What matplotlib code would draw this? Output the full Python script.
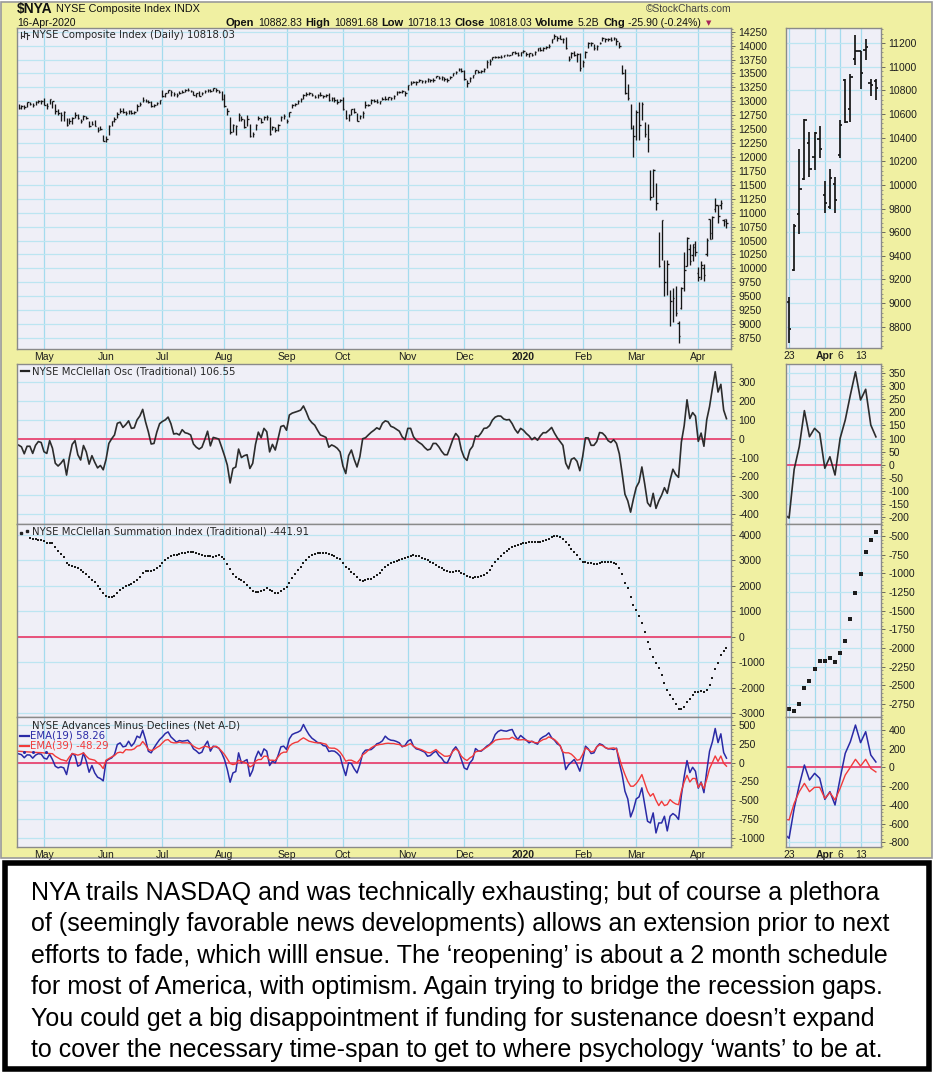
import numpy as np
import pandas as pd
import matplotlib
matplotlib.use("Agg")
import matplotlib.pyplot as plt
from matplotlib.lines import Line2D
from matplotlib.patches import Rectangle
from matplotlib.ticker import AutoMinorLocator

plt.rcParams['axes.unicode_minus'] = False
plt.rcParams['font.family'] = ['Liberation Sans', 'DejaVu Sans']

W, H = 933, 1074

# trading calendar, 17-Apr-2019 .. 16-Apr-2020
holidays = ['2019-04-19', '2019-05-27', '2019-07-04', '2019-09-02', '2019-11-28',
            '2019-12-25', '2020-01-01', '2020-01-20', '2020-02-17', '2020-04-10']
dates = pd.bdate_range('2019-04-17', '2020-04-16', freq='C', holidays=holidays)

# NYSE composite daily bars
nya_close = [
    12880, 12920, 12890, 12980, 12950, 12940, 12990, 13000, 13010, 12940,
    12920, 13040, 13000, 12820, 12790, 12760, 12800, 12580, 12650, 12700,
    12760, 12700, 12650, 12730, 12700, 12560, 12590, 12560, 12480, 12500,
    12290, 12330, 12560, 12640, 12690, 12780, 12820, 12810, 12790, 12830,
    12790, 12800, 12910, 12950, 13030, 13010, 12990, 12920, 12930, 12970,
    13020, 13100, 13140, 13200, 13160, 13130, 13120, 13150, 13170, 13210,
    13200, 13180, 13120, 13140, 13100, 13140, 13190, 13210, 13180, 13230,
    13210, 13170, 13050, 12920, 12820, 12450, 12580, 12560, 12760, 12680,
    12540, 12690, 12370, 12420, 12580, 12700, 12620, 12720, 12710, 12420,
    12530, 12480, 12580, 12710, 12730, 12640, 12800, 12930, 12950, 13000,
    13050, 13120, 13130, 13140, 13120, 13080, 13120, 13110, 13090, 13110,
    13030, 13060, 13020, 12990, 13030, 12860, 12700, 12760, 12860, 12800,
    12650, 12740, 12790, 12940, 12930, 13030, 13010, 12990, 13000, 13050,
    13040, 13070, 13060, 13100, 13160, 13170, 13190, 13140, 13290, 13330,
    13340, 13340, 13380, 13360, 13370, 13400, 13380, 13390, 13450, 13420,
    13430, 13400, 13390, 13440, 13500, 13530, 13580, 13540, 13400, 13330,
    13420, 13470, 13560, 13530, 13540, 13580, 13700, 13720, 13790, 13790,
    13800, 13800, 13830, 13830, 13830, 13880, 13870, 13840, 13880, 13910,
    13850, 13860, 13840, 13890, 13950, 13920, 13960, 13980, 14000, 14110,
    14180, 14140, 14120, 14110, 13960, 13760, 13860, 13830, 13850, 13600,
    13700, 13880, 14040, 14040, 13950, 14000, 14050, 14140, 14110, 14110,
    14100, 14130, 14080, 13990, 13510, 13150, 13060, 12520, 12380, 12810,
    12570, 12955, 12420, 12320, 11290, 11770, 11166, 10050, 10860, 9764,
    10080, 9406, 9466, 9197, 8777, 9655, 9965, 10545, 10130, 10440,
    10300, 9845, 10055, 9875, 10510, 10535, 10915, 11130, 10945, 11170,
    10845, 10818.03]
nya_high = [
    12960, 12940, 12930, 12990, 12990, 12970, 13000, 13020, 13030, 13060,
    12970, 13050, 13010, 12950, 12860, 12800, 12820, 12700, 12700, 12720,
    12800, 12770, 12690, 12750, 12740, 12640, 12640, 12660, 12530, 12560,
    12400, 12380, 12570, 12650, 12720, 12810, 12880, 12880, 12820, 12840,
    12850, 12830, 12960, 12980, 13080, 13040, 13030, 13010, 12960, 12990,
    13030, 13200, 13150, 13210, 13200, 13160, 13140, 13190, 13200, 13220,
    13230, 13210, 13190, 13150, 13180, 13160, 13200, 13220, 13220, 13240,
    13230, 13200, 13190, 13130, 12880, 12720, 12600, 12580, 12790, 12740,
    12680, 12760, 12600, 12450, 12590, 12730, 12700, 12740, 12760, 12710,
    12560, 12540, 12590, 12730, 12770, 12690, 12810, 12960, 12970, 13030,
    13060, 13130, 13170, 13160, 13140, 13120, 13130, 13160, 13120, 13130,
    13140, 13080, 13070, 13050, 13050, 13070, 12840, 12780, 12870, 12880,
    12790, 12760, 12820, 13000, 12960, 13050, 13040, 13040, 13010, 13070,
    13090, 13080, 13080, 13110, 13180, 13190, 13200, 13190, 13300, 13360,
    13370, 13360, 13400, 13380, 13380, 13410, 13400, 13410, 13460, 13460,
    13450, 13440, 13420, 13460, 13510, 13540, 13590, 13590, 13570, 13390,
    13440, 13480, 13570, 13570, 13560, 13590, 13750, 13760, 13800, 13820,
    13820, 13830, 13840, 13850, 13840, 13890, 13900, 13890, 13890, 13920,
    13880, 13870, 13870, 13910, 13960, 13980, 13970, 14000, 14020, 14120,
    14200, 14170, 14190, 14130, 14150, 13820, 13890, 13900, 13870, 13860,
    13750, 13900, 14060, 14060, 14020, 14010, 14070, 14150, 14130, 14130,
    14150, 14150, 14140, 14060, 13660, 13580, 13314, 12956, 12570, 12837,
    12985, 12985, 12630, 12600, 11775, 11790, 11524, 10659, 10868, 10152,
    10152, 9615, 9645, 9675, 9050, 9665, 10300, 10555, 10445, 10445,
    10495, 10030, 10135, 10070, 10550, 10895, 10935, 11270, 11130, 11235,
    10895, 10891.68]
nya_low = [
    12860, 12860, 12870, 12900, 12930, 12900, 12930, 12970, 12950, 12930,
    12870, 12950, 12880, 12780, 12760, 12640, 12650, 12560, 12590, 12590,
    12700, 12680, 12610, 12670, 12680, 12540, 12570, 12550, 12440, 12480,
    12280, 12260, 12400, 12560, 12630, 12700, 12790, 12790, 12750, 12780,
    12770, 12770, 12830, 12920, 12990, 12990, 12970, 12900, 12900, 12930,
    12960, 13080, 13080, 13150, 13100, 13100, 13080, 13130, 13140, 13170,
    13180, 13160, 13110, 13080, 13090, 13110, 13150, 13170, 13160, 13180,
    13170, 13140, 13020, 12890, 12760, 12420, 12440, 12400, 12640, 12640,
    12520, 12560, 12350, 12350, 12480, 12660, 12610, 12670, 12660, 12400,
    12480, 12450, 12460, 12640, 12690, 12610, 12720, 12880, 12920, 12950,
    12990, 13050, 13100, 13110, 13090, 13060, 13060, 13100, 13060, 13080,
    13010, 13010, 12990, 12960, 12990, 12840, 12680, 12640, 12760, 12790,
    12640, 12680, 12700, 12880, 12910, 12960, 12990, 12970, 12960, 13020,
    13030, 13020, 13030, 13050, 13120, 13140, 13150, 13100, 13200, 13300,
    13320, 13300, 13340, 13320, 13330, 13350, 13340, 13350, 13410, 13400,
    13390, 13370, 13350, 13400, 13460, 13490, 13540, 13520, 13380, 13260,
    13350, 13420, 13490, 13510, 13500, 13530, 13590, 13650, 13740, 13770,
    13770, 13780, 13790, 13810, 13810, 13830, 13850, 13810, 13810, 13860,
    13820, 13790, 13820, 13830, 13910, 13900, 13900, 13940, 13960, 14040,
    14120, 14090, 14110, 14040, 13940, 13720, 13770, 13820, 13700, 13550,
    13620, 13780, 13950, 14000, 13920, 13920, 14020, 14080, 14060, 14080,
    14080, 14100, 14010, 13950, 13490, 13135, 13030, 12508, 12000, 12300,
    12300, 12660, 12360, 12090, 11226, 11285, 11047, 10032, 10150, 9496,
    9525, 8960, 9045, 9137, 8665, 9275, 9585, 10045, 10065, 10125,
    10225, 9765, 9800, 9765, 10230, 10525, 10535, 11015, 10810, 11060,
    10755, 10718.13]
# opens of the last 18 sessions (23-Mar .. 16-Apr), shown in the zoom panel
zoom_open = [9010, 9280, 9750, 10050, 10350, 10235, 10390, 9915, 9810, 10010,
             10255, 10890, 10640, 11065, 11130, 11145, 10860, 10882.83]

# NYSE McClellan Oscillator
mcclellan_osc = [
    -34, -43, -80, -40, -40, -78, -35, -15, -20, -69,
    -78, -10, -50, -130, -145, -130, -110, -193, -100, -30,
    -10, -85, -113, -36, -70, -135, -90, -125, -155, -142,
    -165, -110, -25, 0, 20, 82, 88, 60, 75, 95,
    55, 58, 100, 121, 156, 90, 37, -28, -25, 35,
    80, 92, 100, 115, 80, 25, 28, 20, 48, 32,
    28, 20, -28, -45, -55, -45, -5, 40, -38, 7,
    3, -2, -45, -90, -140, -235, -158, -150, -55, -100,
    -90, -85, -158, -131, -30, 35, 5, 55, 37, -70,
    -30, -60, 0, 65, 70, 45, 126, 136, 141, 146,
    152, 174, 142, 104, 85, 72, 45, 20, 14, 7,
    -45, -33, -40, -51, -70, -145, -185, -90, -60, -110,
    -150, -96, 0, 5, 20, 34, 45, 58, 50, 82,
    95, 90, 66, 60, 50, 40, 10, -5, 55, 55,
    11, -8, -20, -30, -47, -60, -55, -25, -25, -43,
    -67, -85, -85, -45, -2, 28, 10, -60, -100, -115,
    -60, -40, 15, 11, 30, 55, 57, 70, 99, 115,
    121, 120, 105, 100, 102, 80, 50, 30, 55, 45,
    28, 15, -5, 7, -8, 15, 32, 32, 45, 60,
    30, 5, -15, -35, -130, -160, -109, -102, -120, -170,
    -95, 5, 4, -35, -35, -15, 33, 30, 15, -10,
    -20, -5, -25, -80, -184, -295, -330, -390, -320, -258,
    -230, -150, -240, -340, -360, -290, -370, -330, -300, -260,
    -290, -220, -162, -190, -205, -18, 69, 207, 107, 139,
    120, -14, 30, -40, 101, 171, 267, 356, 248, 289,
    152, 106.55]

# NYSE McClellan Summation Index (first sessions hidden behind the legend)
summation = [
    None, None, None, None, 3870, 3843, 3830, 3804, 3790, 3777,
    3700, 3672, 3672, 3542, 3385, 3240, 3123, 2914, 2835, 2796,
    2757, 2691, 2626, 2561, 2482, 2364, 2234, 2142, 1998, 1867,
    1710, 1593, 1553, 1553, 1593, 1710, 1841, 1907, 1985, 2050,
    2090, 2142, 2234, 2364, 2495, 2587, 2600, 2600, 2613, 2691,
    2783, 2914, 3032, 3110, 3175, 3201, 3228, 3254, 3280, 3306,
    3332, 3345, 3319, 3280, 3254, 3214, 3175, 3162, 3175, 3149,
    3188, 3201, 3149, 3045, 2861, 2652, 2482, 2364, 2286, 2234,
    2142, 2024, 1907, 1815, 1763, 1763, 1789, 1841, 1907, 1841,
    1789, 1724, 1724, 1789, 1867, 1972, 2129, 2299, 2456, 2626,
    2731, 2914, 3032, 3123, 3201, 3254, 3293, 3306, 3306, 3293,
    3267, 3228, 3175, 3110, 3045, 2901, 2757, 2652, 2561, 2456,
    2351, 2234, 2207, 2220, 2260, 2286, 2338, 2430, 2521, 2626,
    2731, 2809, 2888, 2953, 2992, 3018, 3045, 3084, 3149, 3175,
    3201, 3188, 3162, 3110, 3058, 3005, 2953, 2888, 2822, 2757,
    2704, 2626, 2574, 2561, 2561, 2587, 2600, 2521, 2469, 2391,
    2338, 2299, 2338, 2351, 2391, 2443, 2495, 2613, 2783, 2927,
    3071, 3188, 3293, 3372, 3463, 3529, 3568, 3607, 3646, 3672,
    3699, 3712, 3712, 3712, 3712, 3725, 3764, 3790, 3842, 3908,
    3960, 3960, 3908, 3842, 3725, 3620, 3437, 3345, 3215, 3071,
    2953, 2927, 2901, 2888, 2875, 2875, 2914, 2953, 2953, 2940,
    2927, 2914, 2861, 2691, 2469, 2129, 1907, 1553, 1266, 1056,
    821, 533, 206, -186, -487, -775, -1036, -1233, -1494, -1821,
    -2083, -2300, -2450, -2620, -2821, -2839, -2754, -2540, -2437, -2286,
    -2170, -2170, -2138, -2183, -2071, -1902, -1616, -1259, -1013, -710,
    -554, -441.91]

# NYSE advances minus declines, 19- and 39-day EMAs
ad_ema19 = [
    116, 105, 64, 102, 100, 58, 99, 118, 112, 59,
    46, 110, 40, -49, -71, -58, -71, -160, 18, 120,
    93, -49, -27, 129, 18, -129, -40, -138, -195, -213,
    -244, 18, 44, 62, 107, 240, 262, 209, 218, 284,
    218, 262, 351, 329, 431, 306, 151, 129, 195, 253,
    306, 342, 386, 408, 342, 306, 271, 293, 284, 289,
    297, 253, 182, 155, 120, 138, 226, 284, 151, 218,
    209, 191, 129, 40, -93, -262, -138, -120, 129, -4,
    18, 40, -182, -102, 62, 151, 84, 182, 151, -40,
    18, -4, 93, 209, 218, 173, 315, 373, 391, 404,
    426, 506, 431, 369, 324, 297, 266, 262, 226, 218,
    147, 155, 151, 124, 84, -58, -173, -4, -13, -84,
    -138, -27, 120, 164, 169, 173, 204, 249, 262, 289,
    351, 315, 297, 293, 280, 262, 209, 226, 284, 306,
    218, 182, 173, 155, 138, 84, 93, 129, 151, 93,
    58, 4, -4, 75, 164, 209, 151, 40, -71, -93,
    -4, 40, 186, 155, 151, 182, 218, 240, 284, 373,
    413, 431, 422, 417, 431, 440, 360, 306, 360, 329,
    297, 262, 284, 262, 244, 315, 342, 360, 395, 329,
    297, 249, 226, 129, -93, -31, 4, 40, -27, -115,
    31, 218, 182, 120, 129, 209, 249, 235, 200, 182,
    182, 173, 191, -4, -160, -382, -484, -724, -626, -484,
    -457, -337, -559, -781, -804, -670, -937, -804, -804, -715,
    -910, -715, -679, -706, -757, -437, -188, 26, -134, -63,
    -116, -341, -259, -401, -116, 151, 275, 453, 265, 382,
    133, 58.26]
ad_ema39 = [
    150, 148, 144, 142, 140, 136, 134, 133, 132, 128,
    124, 120, 118, 84, 62, 40, 31, 18, 75, 120,
    111, 98, 111, 129, 84, 49, 40, 31, -4, -31,
    -80, 31, 53, 75, 93, 129, 138, 129, 173, 169,
    169, 182, 218, 226, 280, 235, 173, 160, 173, 200,
    222, 262, 297, 306, 271, 262, 262, 271, 262, 262,
    262, 249, 218, 195, 182, 200, 218, 209, 191, 209,
    218, 191, 151, 107, 49, -13, -27, -18, 31, 13,
    4, -13, -58, -40, 18, 40, 40, 84, 84, 31,
    31, 27, 75, 120, 138, 138, 218, 249, 266, 275,
    306, 329, 306, 284, 275, 266, 262, 262, 253, 244,
    195, 191, 191, 173, 138, 84, 18, 31, 31, 13,
    -4, 40, 102, 129, 164, 195, 218, 231, 240, 244,
    253, 257, 253, 253, 244, 240, 218, 218, 235, 253,
    218, 195, 182, 169, 151, 133, 129, 151, 173, 138,
    111, 84, 84, 93, 151, 182, 151, 84, 49, 27,
    62, 84, 142, 151, 160, 182, 204, 231, 262, 297,
    306, 311, 315, 315, 315, 337, 315, 302, 302, 306,
    297, 284, 280, 266, 262, 284, 306, 315, 342, 324,
    306, 271, 226, 138, 129, 129, 111, 75, 31, 40,
    107, 195, 173, 142, 151, 209, 235, 226, 200, 186,
    191, 195, 182, 62, -58, -160, -249, -315, -315, -280,
    -226, -160, -271, -382, -448, -413, -502, -573, -515, -573,
    -559, -493, -528, -551, -561, -383, -259, -170, -259, -212,
    -212, -330, -269, -348, -223, -81, 1, 87, 15, 87,
    -10, -48.29]

note_lines = [
    "NYA trails NASDAQ and was technically exhausting; but of course a plethora",
    "of (seemingly favorable news developments) allows an extension prior to next",
    "efforts to fade, which willl ensue. The \u2018reopening\u2019 is about a 2 month schedule",
    "for most of America, with optimism. Again trying to bridge the recession gaps.",
    "You could get a big disappointment if funding for sustenance doesn\u2019t expand",
    "to cover the necessary time-span to get to where psychology \u2018wants\u2019 to be at.",
]

n = len(dates)
for arr in (nya_close, nya_high, nya_low, mcclellan_osc, summation, ad_ema19, ad_ema39):
    assert len(arr) == n, (len(arr), n)

x = np.arange(n)
close = np.array(nya_close, float)
high = np.array(nya_high, float)
low = np.array(nya_low, float)
osc = np.array(mcclellan_osc, float)
summ = np.array([np.nan if v is None else v for v in summation], float)
ema19 = np.array(ad_ema19, float)
ema39 = np.array(ad_ema39, float)
z0 = n - len(zoom_open)          # first session of the zoom panel
xz = x[z0:]

YELLOW = "#F0F0A2"
PANEL = "#EFEFF7"
GRID = "#BCE5F1"
GRID_V = "#A4DBEE"
EDGE = "#8A8A8A"
TXT = "#1E1E1E"
ZERO = "#E8507A"
BAR = "#151515"
BLUE = "#2A2AA6"
RED = "#F23A3A"

fig = plt.figure(figsize=(W / 100, H / 100), dpi=100)
fig.patch.set_facecolor("white")
fig.add_artist(Rectangle((1 / W, 1 - 858 / H), 931 / W, 856 / H, transform=fig.transFigure,
                         fc=YELLOW, ec="#9A9A9A", lw=1.2, zorder=0))


def px(xp, yp):
    return xp / W, 1 - yp / H


def fline(xs, ys, **kw):
    fig.add_artist(Line2D([v / W for v in xs], [1 - v / H for v in ys],
                          transform=fig.transFigure, **kw))


def panel(x0, y0, x1, y1, ylim, yticks, xlim):
    ax = fig.add_axes([x0 / W, 1 - y1 / H, (x1 - x0) / W, (y1 - y0) / H])
    ax.set_facecolor(PANEL)
    for s in ax.spines.values():
        s.set_color(EDGE)
        s.set_linewidth(1.0)
    ax.set_xlim(*xlim)
    ax.set_ylim(*ylim)
    ax.yaxis.tick_right()
    ax.set_yticks(list(yticks))
    ax.set_yticklabels([str(t) for t in yticks])
    ax.yaxis.set_minor_locator(AutoMinorLocator(5))
    ax.tick_params(axis='y', which='major', direction='out', length=3, width=0.6,
                   color='#555555', pad=2.5, labelsize=7.5, labelcolor=TXT)
    ax.tick_params(axis='y', which='minor', direction='out', length=1.5, width=0.5,
                   color='#777777')
    ax.tick_params(axis='x', length=0, pad=2, labelsize=7.5, labelcolor=TXT)
    ax.grid(axis='y', color=GRID, lw=0.9)
    ax.set_axisbelow(True)
    return ax


month_first = [i for i in range(1, n) if dates[i].month != dates[i - 1].month]
month_labels = ['2020' if dates[i].month == 1 else dates[i].strftime('%b') for i in month_first]


def month_axis(ax, labels):
    ax.set_xticks(month_first)
    ax.grid(axis='x', color=GRID_V, lw=0.9)
    if labels:
        ax.set_xticklabels(month_labels)
        for t in ax.get_xticklabels():
            if t.get_text() == '2020':
                t.set_fontweight('bold')
    else:
        ax.set_xticklabels([])


zoom_ticks = [z0, z0 + 7, z0 + 10, z0 + 14]
zoom_labels = ['23', 'Apr', '6', '13']
zoom_grid = [z0, z0 + 5, z0 + 7, z0 + 10, z0 + 14]


def zoom_axis(ax, labels):
    for g in zoom_grid:
        ax.axvline(g, color=GRID_V, lw=0.9, zorder=0.5)
    ax.set_xticks(zoom_ticks)
    if labels:
        ax.set_xticklabels(zoom_labels)
        for t in ax.get_xticklabels():
            if t.get_text() == 'Apr':
                t.set_fontweight('bold')
    else:
        ax.set_xticklabels([])


main_xlim = (-0.57, n + 0.6)
zoom_xlim = (z0 - 0.6, n)

# ---- price ----
ax = panel(17, 28, 731, 349, (8552, 14316), range(8750, 14251, 250), main_xlim)
month_axis(ax, True)
ax.vlines(x, low, high, color=BAR, lw=0.95)
ax.hlines(close, x, x + 0.55, color=BAR, lw=0.95)
ax.hlines(zoom_open, xz - 0.55, xz, color=BAR, lw=0.95)

axz = panel(786, 28, 881, 348, (8620, 11327), range(8800, 11201, 200), zoom_xlim)
zoom_axis(axz, True)
axz.vlines(xz, low[z0:], high[z0:], color=BAR, lw=1.25)
axz.hlines(close[z0:], xz, xz + 0.45, color=BAR, lw=1.25)
axz.hlines(zoom_open, xz - 0.45, xz, color=BAR, lw=1.25)

# ---- McClellan oscillator ----
ax = panel(17, 364, 731, 524, (-453, 397), range(-400, 301, 100), main_xlim)
month_axis(ax, False)
ax.axhline(0, color=ZERO, lw=1.4)
ax.plot(x, osc, color='#2C2C2C', lw=1.2)

axz = panel(786, 364, 881, 524, (-228, 386), range(-200, 351, 50), zoom_xlim)
zoom_axis(axz, False)
axz.axhline(0, color=ZERO, lw=1.4)
axz.plot(x[z0 - 1:], osc[z0 - 1:], color='#2C2C2C', lw=1.2)

# ---- summation index ----
ax = panel(17, 524, 731, 717, (-3145, 4432), range(-3000, 4001, 1000), main_xlim)
month_axis(ax, False)
ax.axhline(0, color=ZERO, lw=1.4)
ax.plot(x, summ, 's', ms=2.0, color='#1C1C1C', mew=0)

axz = panel(786, 524, 881, 717, (-2924, -339), range(-2750, -499, 250), zoom_xlim)
zoom_axis(axz, False)
axz.plot(xz, summ[z0:], 's', ms=2.8, color='#1C1C1C', mew=0)

# ---- advances minus declines ----
ax = panel(17, 717, 731, 847, (-1124, 606), range(-1000, 501, 250), main_xlim)
month_axis(ax, True)
ax.axhline(0, color=ZERO, lw=1.4)
ax.plot(x, ema19, color=BLUE, lw=1.1)
ax.plot(x, ema39, color=RED, lw=1.0)

axz = panel(786, 717, 881, 847, (-850, 539), range(-800, 401, 200), zoom_xlim)
zoom_axis(axz, True)
axz.axhline(0, color=ZERO, lw=1.4)
axz.plot(x[z0 - 1:], ema19[z0 - 1:], color=BLUE, lw=1.1)
axz.plot(x[z0 - 1:], ema39[z0 - 1:], color=RED, lw=1.0)

# ---- panel legends ----
LEG = dict(fontsize=7.3, family=['DejaVu Sans'], va='center', color='#262626')
for xx, y0, y1, yc in [(21, 32, 38, 36), (24, 31, 37, 33), (27, 33, 39, 35)]:
    fline([xx, xx], [y0, y1], color='#333333', lw=0.8)
    fline([xx, xx + 1.5], [yc, yc], color='#333333', lw=0.8)
fig.text(*px(32, 35), "NYSE Composite Index (Daily) 10818.03", **LEG)
fline([21, 29], [371, 371], color='#222222', lw=1.6)
fig.text(*px(32, 371), "NYSE McClellan Osc (Traditional) 106.55", **LEG)
fline([21], [533], color='#222222', marker='s', ms=1.8, lw=0)
fline([27], [531], color='#222222', marker='s', ms=1.8, lw=0)
fig.text(*px(32, 532), "NYSE McClellan Summation Index (Traditional) -441.91", **LEG)
fig.text(*px(32, 725), "NYSE Advances Minus Declines (Net A-D)", **LEG)
fline([20, 29], [735.5, 735.5], color=BLUE, lw=1.6)
fig.text(*px(30, 735.5), "EMA(19) 58.26", **dict(LEG, color=BLUE))
fline([20, 29], [745.5, 745.5], color=RED, lw=1.6)
fig.text(*px(30, 745.5), "EMA(39) -48.29", **dict(LEG, color=RED))
fline([24, 33, 46], [752, 752, 752], color=BLUE, marker='o', ms=1.2, lw=0)

# ---- header ----
renderer = fig.canvas.get_renderer()


def put_row(xp, yp, pieces, gap=3.5):
    for s, kw in pieces:
        t = fig.text(*px(xp, yp), s, va='center', ha='left', color='#111111', **kw)
        xp += t.get_window_extent(renderer=renderer).width + gap
    return xp


put_row(17, 9.5, [("$NYA", dict(fontsize=10, weight='bold')),
                  ("NYSE Composite Index", dict(fontsize=7.8)),
                  ("INDX", dict(fontsize=7.8))], gap=3.5)
fig.text(*px(17, 22.5), "16-Apr-2020", fontsize=7.6, va='center', color='#111111')
B = dict(fontsize=8, weight='bold')
N = dict(fontsize=7.6)
end = put_row(226, 22.5, [("Open", B), ("10882.83", N), ("High", B), ("10891.68", N),
                          ("Low", B), ("10718.13", N), ("Close", B), ("10818.03", N),
                          ("Volume", B), ("5.2B", N), ("Chg", B), ("-25.90 (-0.24%)", N)])
fig.text(*px(end + 1, 23), "\u25BC", fontsize=5, family=['DejaVu Sans'], color='#A8245A',
         va='center', ha='left')
fig.text(*px(731, 8.5), "\u00A9StockCharts.com", fontsize=7.4, ha='right', va='center',
         color='#444444')

# ---- comment box ----
fig.add_artist(Rectangle((4.5 / W, 1 - 1068.5 / H), 924 / W, 206 / H, transform=fig.transFigure,
                         fc='white', ec='black', lw=4.0, zorder=0))
probe = fig.text(0, 0, note_lines[0], fontsize=16, family=['Liberation Sans'])
fs = 16 * 850 / probe.get_window_extent(renderer=renderer).width
probe.remove()
for k, line in enumerate(note_lines):
    fig.text(*px(31, 893 + 31.4 * k), line, fontsize=fs, family=['Liberation Sans'],
             va='center', ha='left', color='black')

fig.savefig("out.png", dpi=100, facecolor=fig.get_facecolor())
